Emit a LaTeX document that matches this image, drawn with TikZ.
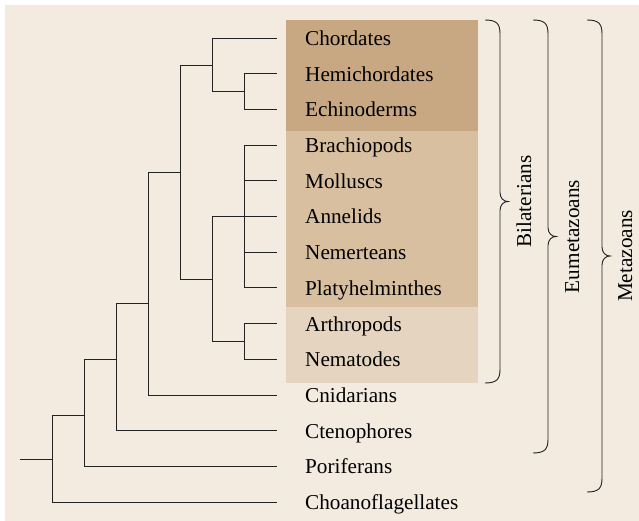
\documentclass[tikz,border=0pt]{standalone}
\usepackage{fontspec}
\setmainfont{Liberation Serif}
\definecolor{bgc}{HTML}{F3EAE0}
\definecolor{boxa}{HTML}{C8A883}
\definecolor{boxb}{HTML}{D7BFA0}
\definecolor{boxc}{HTML}{E5D5C0}
\definecolor{linec}{HTML}{222222}
\tikzset{
  leaf/.style={anchor=base west,inner sep=0pt,font=\fontsize{21.2}{25}\selectfont,text=black},
  grp/.style={rotate=90,anchor=base,inner sep=0pt,font=\fontsize{21.2}{25}\selectfont,text=black},
  branch/.style={draw=linec,line width=0.9pt},
  bracec/.style={draw=linec,line width=0.9pt}
}
\begin{document}
\begin{tikzpicture}[x=1pt,y=-1pt]
\useasboundingbox (0,0) rectangle (639,521);
\fill[bgc] (5,5) rectangle (639,521);
\fill[boxa] (286,20) rectangle (478,131);
\fill[boxb] (286,131) rectangle (478,307);
\fill[boxc] (286,307) rectangle (478,383);
% leaves
\foreach \i/\name in {0/Chordates,1/Hemichordates,2/Echinoderms,3/Brachiopods,4/Molluscs,5/Annelids,6/Nemerteans,7/Platyhelminthes,8/Arthropods,9/Nematodes,10/Cnidarians,11/Ctenophores,12/Poriferans,13/Choanoflagellates}{
  \pgfmathsetmacro{\yy}{38+35.7*\i}
  \coordinate (t\i) at (277,\yy);
  \node[leaf] (l\i) at (305,\yy+7.5) {\name};
}
% internal nodes
\coordinate (nHE) at (244,91.5);
\coordinate (nCH) at (212,65);
\coordinate (nLo) at (244,216.5);
\coordinate (nEN) at (244,341.5);
\coordinate (nPr) at (212,279);
\coordinate (nBi) at (180,172);
\coordinate (nEa) at (148,303);
\coordinate (nEu) at (116,359);
\coordinate (nMe) at (84,415);
\coordinate (nRo) at (52,459);
\coordinate (stem) at (20,459);
% branches
\draw[branch] (nHE) |- (t1); \draw[branch] (nHE) |- (t2);
\draw[branch] (nCH) |- (t0); \draw[branch] (nCH) |- (nHE);
\foreach \i in {3,...,7}{\draw[branch] (nLo) |- (t\i);}
\draw[branch] (nEN) |- (t8); \draw[branch] (nEN) |- (t9);
\draw[branch] (nPr) |- (nLo); \draw[branch] (nPr) |- (nEN);
\draw[branch] (nBi) |- (nCH); \draw[branch] (nBi) |- (nPr);
\draw[branch] (nEa) |- (nBi); \draw[branch] (nEa) |- (t10);
\draw[branch] (nEu) |- (nEa); \draw[branch] (nEu) |- (t11);
\draw[branch] (nMe) |- (nEu); \draw[branch] (nMe) |- (t12);
\draw[branch] (nRo) |- (nMe); \draw[branch] (nRo) |- (t13);
\draw[branch] (stem) -- (nRo);
% braces
\foreach \xa/\xb/\xt/\bot/\nm in {485/500/508/383/bB,533/548/556/453/bE,587/602/610/492/bM}{
  \pgfmathsetmacro{\mid}{(20+\bot)/2}
  \coordinate (\nm) at (\xt,\mid);
  \draw[bracec] (\xa,20) .. controls (\xb-3,20) and (\xb,24) .. (\xb,34)
    -- (\xb,\mid-9) .. controls (\xb,\mid-3) and (\xt-4,\mid) .. (\xt,\mid)
    .. controls (\xt-4,\mid) and (\xb,\mid+3) .. (\xb,\mid+9)
    -- (\xb,\bot-14) .. controls (\xb,\bot-4) and (\xb-3,\bot) .. (\xa,\bot);
}
\node[grp] (gB) at (531,201.5) {Bilaterians};
\node[grp] (gE) at (579,236.5) {Eumetazoans};
\node[grp] (gM) at (632,256) {Metazoans};
\end{tikzpicture}
\end{document}
